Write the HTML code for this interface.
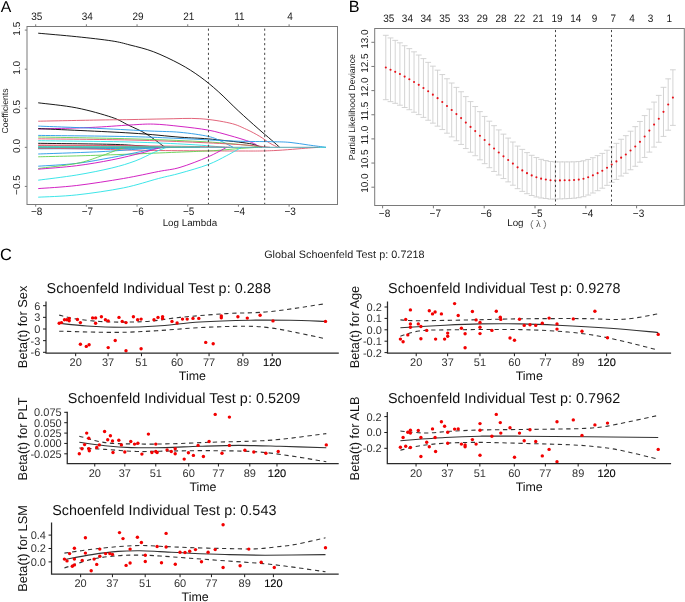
<!DOCTYPE html>
<html><head><meta charset="utf-8"><style>
html,body{margin:0;padding:0;background:#fff;}
svg{display:block;will-change:transform;}
text{font-family:"Liberation Sans", sans-serif;text-rendering:geometricPrecision;}
</style></head><body>
<svg width="685" height="602" viewBox="0 0 685 602">
<rect width="685" height="602" fill="#fff"/>
<g>
<path d="M38.20,33.20 C44.62,33.78 64.43,35.42 76.70,36.70 C88.97,37.98 102.92,39.52 111.80,40.90 C120.68,42.28 123.07,43.20 130.00,45.00 C136.93,46.80 145.07,48.52 153.40,51.70 C161.73,54.88 172.25,59.95 180.00,64.10 C187.75,68.25 193.53,72.03 199.90,76.60 C206.27,81.17 211.82,85.82 218.20,91.50 C224.58,97.18 231.55,104.52 238.20,110.70 C244.85,116.88 252.57,123.72 258.10,128.60 C263.63,133.48 267.80,136.88 271.40,140.00 C275.00,143.12 278.32,146.08 279.70,147.30" fill="none" stroke="#000000" stroke-width="0.9"/>
<path d="M38.20,102.80 C44.62,103.65 64.43,105.48 76.70,107.90 C88.97,110.32 103.23,114.45 111.80,117.30 C120.37,120.15 122.33,122.22 128.10,125.00 C133.87,127.78 140.25,130.28 146.40,134.00 C152.55,137.72 161.90,145.08 165.00,147.30" fill="none" stroke="#000000" stroke-width="0.9"/>
<path d="M38.20,121.20 C48.50,121.00 84.70,120.27 100.00,120.00 C115.30,119.73 119.17,119.78 130.00,119.60 C140.83,119.42 153.35,119.05 165.00,118.90 C176.65,118.75 189.08,118.00 199.90,118.70 C210.72,119.40 222.13,121.32 229.90,123.10 C237.67,124.88 241.52,127.18 246.50,129.40 C251.48,131.62 255.93,134.12 259.80,136.40 C263.67,138.68 266.67,141.28 269.70,143.10 C272.73,144.92 276.62,146.60 278.00,147.30" fill="none" stroke="#DF536B" stroke-width="0.9"/>
<path d="M38.20,129.00 C46.83,128.75 74.70,128.17 90.00,127.50 C105.30,126.83 119.43,125.57 130.00,125.00 C140.57,124.43 145.07,123.87 153.40,124.10 C161.73,124.33 170.87,125.40 180.00,126.40 C189.13,127.40 199.88,128.57 208.20,130.10 C216.52,131.63 223.52,133.85 229.90,135.60 C236.28,137.35 242.35,139.22 246.50,140.60 C250.65,141.98 252.58,142.78 254.80,143.90 C257.02,145.02 258.97,146.73 259.80,147.30" fill="none" stroke="#CD0BBC" stroke-width="0.9"/>
<path d="M38.20,128.60 C53.50,129.33 106.37,131.57 130.00,133.00 C153.63,134.43 166.97,136.22 180.00,137.20 C193.03,138.18 197.12,137.92 208.20,138.90 C219.28,139.88 238.18,141.92 246.50,143.10 C254.82,144.28 255.52,145.30 258.10,146.00 C260.68,146.70 261.35,147.08 262.00,147.30" fill="none" stroke="#000000" stroke-width="0.9"/>
<path d="M38.20,126.10 C48.50,126.50 81.37,127.68 100.00,128.50 C118.63,129.32 136.67,130.37 150.00,131.00 C163.33,131.63 170.30,131.40 180.00,132.30 C189.70,133.20 201.28,134.88 208.20,136.40 C215.12,137.92 217.33,139.58 221.50,141.40 C225.67,143.22 231.25,146.32 233.20,147.30" fill="none" stroke="#2297E6" stroke-width="0.9"/>
<path d="M38.20,135.40 C53.50,135.60 106.37,136.08 130.00,136.60 C153.63,137.12 162.53,137.75 180.00,138.50 C197.47,139.25 219.57,140.57 234.80,141.10 C250.03,141.63 262.20,141.48 271.40,141.70 C280.60,141.92 283.82,141.85 290.00,142.40 C296.18,142.95 302.50,144.18 308.50,145.00 C314.50,145.82 323.08,146.92 326.00,147.30" fill="none" stroke="#2297E6" stroke-width="0.9"/>
<path d="M38.20,137.00 C53.50,137.30 103.03,138.05 130.00,138.80 C156.97,139.55 181.67,140.55 200.00,141.50 C218.33,142.45 229.67,143.53 240.00,144.50 C250.33,145.47 258.33,146.83 262.00,147.30" fill="none" stroke="#61D04F" stroke-width="0.9"/>
<path d="M38.20,138.80 C53.50,139.00 103.03,139.38 130.00,140.00 C156.97,140.62 180.83,141.67 200.00,142.50 C219.17,143.33 233.33,144.20 245.00,145.00 C256.67,145.80 265.83,146.92 270.00,147.30" fill="none" stroke="#DF536B" stroke-width="0.9"/>
<path d="M38.20,140.70 C53.50,140.92 104.70,141.37 130.00,142.00 C155.30,142.63 174.17,143.62 190.00,144.50 C205.83,145.38 219.17,146.83 225.00,147.30" fill="none" stroke="#28E2E5" stroke-width="0.9"/>
<path d="M38.20,143.30 C50.17,143.47 93.03,143.88 110.00,144.30 C126.97,144.72 131.67,145.30 140.00,145.80 C148.33,146.30 156.67,147.05 160.00,147.30" fill="none" stroke="#000000" stroke-width="0.9"/>
<path d="M38.20,145.00 C55.17,145.13 113.03,145.53 140.00,145.80 C166.97,146.07 185.00,146.35 200.00,146.60 C215.00,146.85 225.00,147.18 230.00,147.30" fill="none" stroke="#DF536B" stroke-width="0.9"/>
<path d="M38.20,145.60 C51.83,145.70 98.03,145.92 120.00,146.20 C141.97,146.48 161.67,147.12 170.00,147.30" fill="none" stroke="#DF536B" stroke-width="0.9"/>
<path d="M38.20,146.50 C56.83,146.57 123.03,146.77 150.00,146.90 C176.97,147.03 191.67,147.23 200.00,147.30" fill="none" stroke="#28E2E5" stroke-width="0.9"/>
<path d="M38.20,147.20 C56.83,147.20 123.03,147.18 150.00,147.20 C176.97,147.22 191.67,147.28 200.00,147.30" fill="none" stroke="#61D04F" stroke-width="0.9"/>
<path d="M38.20,147.80 C56.83,147.77 123.03,147.68 150.00,147.60 C176.97,147.52 191.67,147.35 200.00,147.30" fill="none" stroke="#28E2E5" stroke-width="0.9"/>
<path d="M38.20,148.40 C55.17,148.33 116.37,148.18 140.00,148.00 C163.63,147.82 173.33,147.42 180.00,147.30" fill="none" stroke="#61D04F" stroke-width="0.9"/>
<path d="M38.20,148.80 C51.83,148.73 98.03,148.65 120.00,148.40 C141.97,148.15 161.67,147.48 170.00,147.30" fill="none" stroke="#2297E6" stroke-width="0.9"/>
<path d="M38.20,148.20 C46.83,148.33 71.37,148.63 90.00,149.00 C108.63,149.37 125.27,150.07 150.00,150.40 C174.73,150.73 217.83,150.97 238.40,151.00 C258.97,151.03 261.72,151.10 273.40,150.60 C285.08,150.10 300.73,148.55 308.50,148.00 C316.27,147.45 318.08,147.42 320.00,147.30" fill="none" stroke="#DF536B" stroke-width="0.9"/>
<path d="M38.20,154.00 C48.50,153.62 83.85,152.48 100.00,151.70 C116.15,150.92 125.35,150.03 135.10,149.30 C144.85,148.57 154.60,147.63 158.50,147.30" fill="none" stroke="#2297E6" stroke-width="0.9"/>
<path d="M38.20,156.80 C48.50,156.53 74.70,156.05 100.00,155.20 C125.30,154.35 170.83,152.47 190.00,151.70 C209.17,150.93 206.93,151.12 215.00,150.60 C223.07,150.08 231.23,149.15 238.40,148.60 C245.57,148.05 254.73,147.52 258.00,147.30" fill="none" stroke="#61D04F" stroke-width="0.9"/>
<path d="M38.20,166.20 C44.62,165.73 64.43,164.85 76.70,163.40 C88.97,161.95 102.07,159.27 111.80,157.50 C121.53,155.73 128.10,154.25 135.10,152.80 C142.10,151.35 149.32,149.72 153.80,148.80 C158.28,147.88 160.63,147.55 162.00,147.30" fill="none" stroke="#2297E6" stroke-width="0.9"/>
<path d="M38.20,168.50 C44.62,167.65 66.40,165.42 76.70,163.40 C87.00,161.38 92.98,158.75 100.00,156.40 C107.02,154.05 114.47,150.82 118.80,149.30 C123.13,147.78 124.80,147.63 126.00,147.30" fill="none" stroke="#61D04F" stroke-width="0.9"/>
<path d="M38.20,169.20 C44.62,168.62 64.43,167.25 76.70,165.70 C88.97,164.15 100.90,162.05 111.80,159.90 C122.70,157.75 134.72,154.65 142.10,152.80 C149.48,150.95 152.62,149.72 156.10,148.80 C159.58,147.88 161.85,147.55 163.00,147.30" fill="none" stroke="#CD0BBC" stroke-width="0.9"/>
<path d="M38.20,180.20 C44.62,179.33 64.43,177.03 76.70,175.00 C88.97,172.97 102.07,170.33 111.80,168.00 C121.53,165.67 128.10,163.58 135.10,161.00 C142.10,158.42 148.57,154.78 153.80,152.50 C159.03,150.22 164.38,148.17 166.50,147.30" fill="none" stroke="#28E2E5" stroke-width="0.9"/>
<path d="M38.20,188.60 C44.62,188.08 62.50,187.18 76.70,185.50 C90.90,183.82 109.77,180.83 123.40,178.50 C137.03,176.17 149.07,173.35 158.50,171.50 C167.93,169.65 171.75,169.83 180.00,167.40 C188.25,164.97 200.22,160.25 208.00,156.90 C215.78,153.55 223.58,148.90 226.70,147.30" fill="none" stroke="#CD0BBC" stroke-width="0.9"/>
<path d="M38.20,197.20 C44.62,196.82 62.50,196.45 76.70,194.90 C90.90,193.35 109.77,190.63 123.40,187.90 C137.03,185.17 149.07,180.95 158.50,178.50 C167.93,176.05 171.75,175.52 180.00,173.20 C188.25,170.88 200.22,167.53 208.00,164.60 C215.78,161.67 221.12,158.48 226.70,155.60 C232.28,152.72 239.03,148.68 241.50,147.30" fill="none" stroke="#28E2E5" stroke-width="0.9"/>
<line x1="38.2" y1="147.30" x2="318.00" y2="147.30" stroke="#55a7b0" stroke-width="1"/>
<line x1="318.00" y1="147.30" x2="326.00" y2="147.30" stroke="#3cc6d0" stroke-width="1"/>
<line x1="208.45" y1="26.50" x2="208.45" y2="204.50" stroke="#444" stroke-width="1" stroke-dasharray="2.2,2.64" stroke-dashoffset="2.8"/>
<line x1="264.70" y1="26.50" x2="264.70" y2="204.50" stroke="#444" stroke-width="1" stroke-dasharray="2.2,2.64" stroke-dashoffset="2.8"/>
<rect x="27.00" y="26.50" width="310.50" height="178.00" fill="none" stroke="#7a7a7a" stroke-width="1"/>
<line x1="35.70" y1="26.50" x2="35.70" y2="24.30" stroke="#7a7a7a" stroke-width="1"/>
<line x1="35.70" y1="204.50" x2="35.70" y2="206.70" stroke="#7a7a7a" stroke-width="1"/>
<text x="36.70" y="19.80" font-size="10.00" text-anchor="middle" fill="#1a1a1a" transform="matrix(1,0,0,1.080,0,-1.584)">35</text>
<text x="36.70" y="214.90" font-size="10.00" text-anchor="middle" fill="#1a1a1a" transform="matrix(1,0,0,1.080,0,-17.192)">−8</text>
<line x1="86.38" y1="26.50" x2="86.38" y2="24.30" stroke="#7a7a7a" stroke-width="1"/>
<line x1="86.38" y1="204.50" x2="86.38" y2="206.70" stroke="#7a7a7a" stroke-width="1"/>
<text x="87.38" y="19.80" font-size="10.00" text-anchor="middle" fill="#1a1a1a" transform="matrix(1,0,0,1.080,0,-1.584)">34</text>
<text x="87.38" y="214.90" font-size="10.00" text-anchor="middle" fill="#1a1a1a" transform="matrix(1,0,0,1.080,0,-17.192)">−7</text>
<line x1="137.06" y1="26.50" x2="137.06" y2="24.30" stroke="#7a7a7a" stroke-width="1"/>
<line x1="137.06" y1="204.50" x2="137.06" y2="206.70" stroke="#7a7a7a" stroke-width="1"/>
<text x="138.06" y="19.80" font-size="10.00" text-anchor="middle" fill="#1a1a1a" transform="matrix(1,0,0,1.080,0,-1.584)">29</text>
<text x="138.06" y="214.90" font-size="10.00" text-anchor="middle" fill="#1a1a1a" transform="matrix(1,0,0,1.080,0,-17.192)">−6</text>
<line x1="187.74" y1="26.50" x2="187.74" y2="24.30" stroke="#7a7a7a" stroke-width="1"/>
<line x1="187.74" y1="204.50" x2="187.74" y2="206.70" stroke="#7a7a7a" stroke-width="1"/>
<text x="188.74" y="19.80" font-size="10.00" text-anchor="middle" fill="#1a1a1a" transform="matrix(1,0,0,1.080,0,-1.584)">21</text>
<text x="188.74" y="214.90" font-size="10.00" text-anchor="middle" fill="#1a1a1a" transform="matrix(1,0,0,1.080,0,-17.192)">−5</text>
<line x1="238.42" y1="26.50" x2="238.42" y2="24.30" stroke="#7a7a7a" stroke-width="1"/>
<line x1="238.42" y1="204.50" x2="238.42" y2="206.70" stroke="#7a7a7a" stroke-width="1"/>
<text x="239.42" y="19.80" font-size="10.00" text-anchor="middle" fill="#1a1a1a" transform="matrix(1,0,0,1.080,0,-1.584)">11</text>
<text x="239.42" y="214.90" font-size="10.00" text-anchor="middle" fill="#1a1a1a" transform="matrix(1,0,0,1.080,0,-17.192)">−4</text>
<line x1="289.10" y1="26.50" x2="289.10" y2="24.30" stroke="#7a7a7a" stroke-width="1"/>
<line x1="289.10" y1="204.50" x2="289.10" y2="206.70" stroke="#7a7a7a" stroke-width="1"/>
<text x="290.10" y="19.80" font-size="10.00" text-anchor="middle" fill="#1a1a1a" transform="matrix(1,0,0,1.080,0,-1.584)">4</text>
<text x="290.10" y="214.90" font-size="10.00" text-anchor="middle" fill="#1a1a1a" transform="matrix(1,0,0,1.080,0,-17.192)">−3</text>
<line x1="27.00" y1="30.10" x2="24.80" y2="30.10" stroke="#7a7a7a" stroke-width="1"/>
<text x="19.70" y="28.70" font-size="10.00" text-anchor="middle" fill="#1a1a1a" transform="rotate(-90 19.70 28.70)">1.5</text>
<line x1="27.00" y1="69.18" x2="24.80" y2="69.18" stroke="#7a7a7a" stroke-width="1"/>
<text x="19.70" y="67.78" font-size="10.00" text-anchor="middle" fill="#1a1a1a" transform="rotate(-90 19.70 67.78)">1.0</text>
<line x1="27.00" y1="108.26" x2="24.80" y2="108.26" stroke="#7a7a7a" stroke-width="1"/>
<text x="19.70" y="106.86" font-size="10.00" text-anchor="middle" fill="#1a1a1a" transform="rotate(-90 19.70 106.86)">0.5</text>
<line x1="27.00" y1="147.34" x2="24.80" y2="147.34" stroke="#7a7a7a" stroke-width="1"/>
<text x="19.70" y="145.94" font-size="10.00" text-anchor="middle" fill="#1a1a1a" transform="rotate(-90 19.70 145.94)">0.0</text>
<line x1="27.00" y1="186.42" x2="24.80" y2="186.42" stroke="#7a7a7a" stroke-width="1"/>
<text x="19.70" y="185.02" font-size="10.00" text-anchor="middle" fill="#1a1a1a" transform="rotate(-90 19.70 185.02)">−0.5</text>
<text x="7.60" y="111.00" font-size="8.70" text-anchor="middle" fill="#1a1a1a" transform="rotate(-90 7.60 111.00)">Coefficients</text>
<text x="189.90" y="226.30" font-size="9.80" text-anchor="middle" fill="#1a1a1a">Log Lambda</text>
<text x="0.70" y="11.80" font-size="15.80" text-anchor="start" fill="#000">A</text>
</g>
<g>
<path d="M385.80,35.30 V99.70 M382.90,35.30 H388.70 M382.90,99.70 H388.70" stroke="#cfcfcf" stroke-width="0.9" fill="none"/>
<path d="M390.51,37.94 V101.64 M387.61,37.94 H393.41 M387.61,101.64 H393.41" stroke="#cfcfcf" stroke-width="0.9" fill="none"/>
<path d="M395.21,40.36 V103.34 M392.31,40.36 H398.11 M392.31,103.34 H398.11" stroke="#cfcfcf" stroke-width="0.9" fill="none"/>
<path d="M399.92,42.82 V105.21 M397.02,42.82 H402.82 M397.02,105.21 H402.82" stroke="#cfcfcf" stroke-width="0.9" fill="none"/>
<path d="M404.63,45.72 V107.51 M401.73,45.72 H407.53 M401.73,107.51 H407.53" stroke="#cfcfcf" stroke-width="0.9" fill="none"/>
<path d="M409.33,48.63 V109.73 M406.43,48.63 H412.23 M406.43,109.73 H412.23" stroke="#cfcfcf" stroke-width="0.9" fill="none"/>
<path d="M414.04,51.83 V112.22 M411.14,51.83 H416.94 M411.14,112.22 H416.94" stroke="#cfcfcf" stroke-width="0.9" fill="none"/>
<path d="M418.75,55.04 V114.62 M415.85,55.04 H421.65 M415.85,114.62 H421.65" stroke="#cfcfcf" stroke-width="0.9" fill="none"/>
<path d="M423.45,58.62 V117.39 M420.55,58.62 H426.35 M420.55,117.39 H426.35" stroke="#cfcfcf" stroke-width="0.9" fill="none"/>
<path d="M428.16,62.37 V120.25 M425.26,62.37 H431.06 M425.26,120.25 H431.06" stroke="#cfcfcf" stroke-width="0.9" fill="none"/>
<path d="M432.87,66.16 V123.14 M429.97,66.16 H435.77 M429.97,123.14 H435.77" stroke="#cfcfcf" stroke-width="0.9" fill="none"/>
<path d="M437.57,70.16 V126.13 M434.67,70.16 H440.47 M434.67,126.13 H440.47" stroke="#cfcfcf" stroke-width="0.9" fill="none"/>
<path d="M442.28,74.56 V129.54 M439.38,74.56 H445.18 M439.38,129.54 H445.18" stroke="#cfcfcf" stroke-width="0.9" fill="none"/>
<path d="M446.99,78.75 V133.20 M444.09,78.75 H449.89 M444.09,133.20 H449.89" stroke="#cfcfcf" stroke-width="0.9" fill="none"/>
<path d="M451.69,83.01 V136.92 M448.79,83.01 H454.59 M448.79,136.92 H454.59" stroke="#cfcfcf" stroke-width="0.9" fill="none"/>
<path d="M456.40,87.40 V140.77 M453.50,87.40 H459.30 M453.50,140.77 H459.30" stroke="#cfcfcf" stroke-width="0.9" fill="none"/>
<path d="M461.10,91.77 V144.44 M458.20,91.77 H464.00 M458.20,144.44 H464.00" stroke="#cfcfcf" stroke-width="0.9" fill="none"/>
<path d="M465.81,96.62 V148.56 M462.91,96.62 H468.71 M462.91,148.56 H468.71" stroke="#cfcfcf" stroke-width="0.9" fill="none"/>
<path d="M470.52,101.62 V152.19 M467.62,101.62 H473.42 M467.62,152.19 H473.42" stroke="#cfcfcf" stroke-width="0.9" fill="none"/>
<path d="M475.22,106.53 V155.72 M472.32,106.53 H478.12 M472.32,155.72 H478.12" stroke="#cfcfcf" stroke-width="0.9" fill="none"/>
<path d="M479.93,111.63 V159.83 M477.03,111.63 H482.83 M477.03,159.83 H482.83" stroke="#cfcfcf" stroke-width="0.9" fill="none"/>
<path d="M484.64,116.44 V163.65 M481.74,116.44 H487.54 M481.74,163.65 H487.54" stroke="#cfcfcf" stroke-width="0.9" fill="none"/>
<path d="M489.34,121.18 V167.69 M486.44,121.18 H492.24 M486.44,167.69 H492.24" stroke="#cfcfcf" stroke-width="0.9" fill="none"/>
<path d="M494.05,125.65 V171.46 M491.15,125.65 H496.95 M491.15,171.46 H496.95" stroke="#cfcfcf" stroke-width="0.9" fill="none"/>
<path d="M498.76,129.92 V175.01 M495.86,129.92 H501.66 M495.86,175.01 H501.66" stroke="#cfcfcf" stroke-width="0.9" fill="none"/>
<path d="M503.46,134.15 V178.55 M500.56,134.15 H506.36 M500.56,178.55 H506.36" stroke="#cfcfcf" stroke-width="0.9" fill="none"/>
<path d="M508.17,138.08 V181.88 M505.27,138.08 H511.07 M505.27,181.88 H511.07" stroke="#cfcfcf" stroke-width="0.9" fill="none"/>
<path d="M512.88,142.00 V185.21 M509.98,142.00 H515.78 M509.98,185.21 H515.78" stroke="#cfcfcf" stroke-width="0.9" fill="none"/>
<path d="M517.58,146.05 V188.66 M514.68,146.05 H520.48 M514.68,188.66 H520.48" stroke="#cfcfcf" stroke-width="0.9" fill="none"/>
<path d="M522.29,149.39 V191.39 M519.39,149.39 H525.19 M519.39,191.39 H525.19" stroke="#cfcfcf" stroke-width="0.9" fill="none"/>
<path d="M527.00,152.60 V193.70 M524.10,152.60 H529.90 M524.10,193.70 H529.90" stroke="#cfcfcf" stroke-width="0.9" fill="none"/>
<path d="M531.70,155.30 V195.50 M528.80,155.30 H534.60 M528.80,195.50 H534.60" stroke="#cfcfcf" stroke-width="0.9" fill="none"/>
<path d="M536.41,157.55 V196.97 M533.51,157.55 H539.31 M533.51,196.97 H539.31" stroke="#cfcfcf" stroke-width="0.9" fill="none"/>
<path d="M541.12,159.34 V197.98 M538.22,159.34 H544.02 M538.22,197.98 H544.02" stroke="#cfcfcf" stroke-width="0.9" fill="none"/>
<path d="M545.82,160.57 V198.51 M542.92,160.57 H548.72 M542.92,198.51 H548.72" stroke="#cfcfcf" stroke-width="0.9" fill="none"/>
<path d="M550.53,161.51 V199.10 M547.63,161.51 H553.43 M547.63,199.10 H553.43" stroke="#cfcfcf" stroke-width="0.9" fill="none"/>
<path d="M555.24,161.86 V199.11 M552.34,161.86 H558.14 M552.34,199.11 H558.14" stroke="#cfcfcf" stroke-width="0.9" fill="none"/>
<path d="M559.94,161.88 V198.91 M557.04,161.88 H562.84 M557.04,198.91 H562.84" stroke="#cfcfcf" stroke-width="0.9" fill="none"/>
<path d="M564.65,161.88 V198.71 M561.75,161.88 H567.55 M561.75,198.71 H567.55" stroke="#cfcfcf" stroke-width="0.9" fill="none"/>
<path d="M569.36,161.88 V198.51 M566.46,161.88 H572.26 M566.46,198.51 H572.26" stroke="#cfcfcf" stroke-width="0.9" fill="none"/>
<path d="M574.06,161.80 V198.19 M571.16,161.80 H576.96 M571.16,198.19 H576.96" stroke="#cfcfcf" stroke-width="0.9" fill="none"/>
<path d="M578.77,161.54 V197.67 M575.87,161.54 H581.67 M575.87,197.67 H581.67" stroke="#cfcfcf" stroke-width="0.9" fill="none"/>
<path d="M583.48,160.80 V196.69 M580.58,160.80 H586.38 M580.58,196.69 H586.38" stroke="#cfcfcf" stroke-width="0.9" fill="none"/>
<path d="M588.18,159.46 V195.07 M585.28,159.46 H591.08 M585.28,195.07 H591.08" stroke="#cfcfcf" stroke-width="0.9" fill="none"/>
<path d="M592.89,157.69 V193.03 M589.99,157.69 H595.79 M589.99,193.03 H595.79" stroke="#cfcfcf" stroke-width="0.9" fill="none"/>
<path d="M597.60,155.62 V190.69 M594.70,155.62 H600.50 M594.70,190.69 H600.50" stroke="#cfcfcf" stroke-width="0.9" fill="none"/>
<path d="M602.30,153.40 V188.20 M599.40,153.40 H605.20 M599.40,188.20 H605.20" stroke="#cfcfcf" stroke-width="0.9" fill="none"/>
<path d="M607.01,150.24 V185.35 M604.11,150.24 H609.91 M604.11,185.35 H609.91" stroke="#cfcfcf" stroke-width="0.9" fill="none"/>
<path d="M611.71,146.91 V182.33 M608.81,146.91 H614.61 M608.81,182.33 H614.61" stroke="#cfcfcf" stroke-width="0.9" fill="none"/>
<path d="M616.42,143.37 V179.44 M613.52,143.37 H619.32 M613.52,179.44 H619.32" stroke="#cfcfcf" stroke-width="0.9" fill="none"/>
<path d="M621.13,139.27 V176.02 M618.23,139.27 H624.03 M618.23,176.02 H624.03" stroke="#cfcfcf" stroke-width="0.9" fill="none"/>
<path d="M625.83,135.65 V173.29 M622.93,135.65 H628.73 M622.93,173.29 H628.73" stroke="#cfcfcf" stroke-width="0.9" fill="none"/>
<path d="M630.54,131.21 V169.75 M627.64,131.21 H633.44 M627.64,169.75 H633.44" stroke="#cfcfcf" stroke-width="0.9" fill="none"/>
<path d="M635.25,126.64 V166.27 M632.35,126.64 H638.15 M632.35,166.27 H638.15" stroke="#cfcfcf" stroke-width="0.9" fill="none"/>
<path d="M639.95,121.48 V162.20 M637.05,121.48 H642.85 M637.05,162.20 H642.85" stroke="#cfcfcf" stroke-width="0.9" fill="none"/>
<path d="M644.66,115.58 V157.46 M641.76,115.58 H647.56 M641.76,157.46 H647.56" stroke="#cfcfcf" stroke-width="0.9" fill="none"/>
<path d="M649.37,109.05 V152.12 M646.47,109.05 H652.27 M646.47,152.12 H652.27" stroke="#cfcfcf" stroke-width="0.9" fill="none"/>
<path d="M654.07,102.10 V147.08 M651.17,102.10 H656.97 M651.17,147.08 H656.97" stroke="#cfcfcf" stroke-width="0.9" fill="none"/>
<path d="M658.78,95.38 V142.27 M655.88,95.38 H661.68 M655.88,142.27 H661.68" stroke="#cfcfcf" stroke-width="0.9" fill="none"/>
<path d="M663.49,87.32 V136.41 M660.59,87.32 H666.39 M660.59,136.41 H666.39" stroke="#cfcfcf" stroke-width="0.9" fill="none"/>
<path d="M668.19,78.83 V130.20 M665.29,78.83 H671.09 M665.29,130.20 H671.09" stroke="#cfcfcf" stroke-width="0.9" fill="none"/>
<path d="M672.90,69.80 V125.40 M670.00,69.80 H675.80 M670.00,125.40 H675.80" stroke="#cfcfcf" stroke-width="0.9" fill="none"/>
<circle cx="385.80" cy="67.50" r="1.05" fill="#e8121a"/>
<circle cx="390.51" cy="69.79" r="1.05" fill="#e8121a"/>
<circle cx="395.21" cy="71.85" r="1.05" fill="#e8121a"/>
<circle cx="399.92" cy="74.01" r="1.05" fill="#e8121a"/>
<circle cx="404.63" cy="76.61" r="1.05" fill="#e8121a"/>
<circle cx="409.33" cy="79.18" r="1.05" fill="#e8121a"/>
<circle cx="414.04" cy="82.02" r="1.05" fill="#e8121a"/>
<circle cx="418.75" cy="84.83" r="1.05" fill="#e8121a"/>
<circle cx="423.45" cy="88.01" r="1.05" fill="#e8121a"/>
<circle cx="428.16" cy="91.31" r="1.05" fill="#e8121a"/>
<circle cx="432.87" cy="94.65" r="1.05" fill="#e8121a"/>
<circle cx="437.57" cy="98.14" r="1.05" fill="#e8121a"/>
<circle cx="442.28" cy="102.05" r="1.05" fill="#e8121a"/>
<circle cx="446.99" cy="105.97" r="1.05" fill="#e8121a"/>
<circle cx="451.69" cy="109.97" r="1.05" fill="#e8121a"/>
<circle cx="456.40" cy="114.08" r="1.05" fill="#e8121a"/>
<circle cx="461.10" cy="118.10" r="1.05" fill="#e8121a"/>
<circle cx="465.81" cy="122.59" r="1.05" fill="#e8121a"/>
<circle cx="470.52" cy="126.91" r="1.05" fill="#e8121a"/>
<circle cx="475.22" cy="131.12" r="1.05" fill="#e8121a"/>
<circle cx="479.93" cy="135.73" r="1.05" fill="#e8121a"/>
<circle cx="484.64" cy="140.04" r="1.05" fill="#e8121a"/>
<circle cx="489.34" cy="144.44" r="1.05" fill="#e8121a"/>
<circle cx="494.05" cy="148.56" r="1.05" fill="#e8121a"/>
<circle cx="498.76" cy="152.46" r="1.05" fill="#e8121a"/>
<circle cx="503.46" cy="156.35" r="1.05" fill="#e8121a"/>
<circle cx="508.17" cy="159.98" r="1.05" fill="#e8121a"/>
<circle cx="512.88" cy="163.61" r="1.05" fill="#e8121a"/>
<circle cx="517.58" cy="167.35" r="1.05" fill="#e8121a"/>
<circle cx="522.29" cy="170.39" r="1.05" fill="#e8121a"/>
<circle cx="527.00" cy="173.15" r="1.05" fill="#e8121a"/>
<circle cx="531.70" cy="175.40" r="1.05" fill="#e8121a"/>
<circle cx="536.41" cy="177.26" r="1.05" fill="#e8121a"/>
<circle cx="541.12" cy="178.66" r="1.05" fill="#e8121a"/>
<circle cx="545.82" cy="179.54" r="1.05" fill="#e8121a"/>
<circle cx="550.53" cy="180.30" r="1.05" fill="#e8121a"/>
<circle cx="555.24" cy="180.49" r="1.05" fill="#e8121a"/>
<circle cx="559.94" cy="180.40" r="1.05" fill="#e8121a"/>
<circle cx="564.65" cy="180.30" r="1.05" fill="#e8121a"/>
<circle cx="569.36" cy="180.20" r="1.05" fill="#e8121a"/>
<circle cx="574.06" cy="179.99" r="1.05" fill="#e8121a"/>
<circle cx="578.77" cy="179.60" r="1.05" fill="#e8121a"/>
<circle cx="583.48" cy="178.75" r="1.05" fill="#e8121a"/>
<circle cx="588.18" cy="177.27" r="1.05" fill="#e8121a"/>
<circle cx="592.89" cy="175.36" r="1.05" fill="#e8121a"/>
<circle cx="597.60" cy="173.15" r="1.05" fill="#e8121a"/>
<circle cx="602.30" cy="170.80" r="1.05" fill="#e8121a"/>
<circle cx="607.01" cy="167.79" r="1.05" fill="#e8121a"/>
<circle cx="611.71" cy="164.62" r="1.05" fill="#e8121a"/>
<circle cx="616.42" cy="161.40" r="1.05" fill="#e8121a"/>
<circle cx="621.13" cy="157.65" r="1.05" fill="#e8121a"/>
<circle cx="625.83" cy="154.47" r="1.05" fill="#e8121a"/>
<circle cx="630.54" cy="150.48" r="1.05" fill="#e8121a"/>
<circle cx="635.25" cy="146.46" r="1.05" fill="#e8121a"/>
<circle cx="639.95" cy="141.84" r="1.05" fill="#e8121a"/>
<circle cx="644.66" cy="136.52" r="1.05" fill="#e8121a"/>
<circle cx="649.37" cy="130.59" r="1.05" fill="#e8121a"/>
<circle cx="654.07" cy="124.59" r="1.05" fill="#e8121a"/>
<circle cx="658.78" cy="118.82" r="1.05" fill="#e8121a"/>
<circle cx="663.49" cy="111.86" r="1.05" fill="#e8121a"/>
<circle cx="668.19" cy="104.52" r="1.05" fill="#e8121a"/>
<circle cx="672.90" cy="97.60" r="1.05" fill="#e8121a"/>
<line x1="555.50" y1="28.50" x2="555.50" y2="205.50" stroke="#444" stroke-width="1" stroke-dasharray="2.2,2.64" stroke-dashoffset="3.4"/>
<line x1="611.50" y1="28.50" x2="611.50" y2="205.50" stroke="#444" stroke-width="1" stroke-dasharray="2.2,2.64" stroke-dashoffset="3.4"/>
<rect x="374.70" y="28.50" width="309.60" height="177.00" fill="none" stroke="#7a7a7a" stroke-width="1"/>
<text x="388.70" y="22.00" font-size="10.00" text-anchor="middle" fill="#1a1a1a" transform="matrix(1,0,0,1.080,0,-1.760)">35</text>
<text x="407.41" y="22.00" font-size="10.00" text-anchor="middle" fill="#1a1a1a" transform="matrix(1,0,0,1.080,0,-1.760)">34</text>
<text x="426.12" y="22.00" font-size="10.00" text-anchor="middle" fill="#1a1a1a" transform="matrix(1,0,0,1.080,0,-1.760)">34</text>
<text x="444.83" y="22.00" font-size="10.00" text-anchor="middle" fill="#1a1a1a" transform="matrix(1,0,0,1.080,0,-1.760)">35</text>
<text x="463.54" y="22.00" font-size="10.00" text-anchor="middle" fill="#1a1a1a" transform="matrix(1,0,0,1.080,0,-1.760)">33</text>
<text x="482.25" y="22.00" font-size="10.00" text-anchor="middle" fill="#1a1a1a" transform="matrix(1,0,0,1.080,0,-1.760)">29</text>
<text x="500.96" y="22.00" font-size="10.00" text-anchor="middle" fill="#1a1a1a" transform="matrix(1,0,0,1.080,0,-1.760)">28</text>
<text x="519.67" y="22.00" font-size="10.00" text-anchor="middle" fill="#1a1a1a" transform="matrix(1,0,0,1.080,0,-1.760)">22</text>
<text x="538.38" y="22.00" font-size="10.00" text-anchor="middle" fill="#1a1a1a" transform="matrix(1,0,0,1.080,0,-1.760)">21</text>
<text x="557.09" y="22.00" font-size="10.00" text-anchor="middle" fill="#1a1a1a" transform="matrix(1,0,0,1.080,0,-1.760)">19</text>
<text x="575.80" y="22.00" font-size="10.00" text-anchor="middle" fill="#1a1a1a" transform="matrix(1,0,0,1.080,0,-1.760)">14</text>
<text x="594.51" y="22.00" font-size="10.00" text-anchor="middle" fill="#1a1a1a" transform="matrix(1,0,0,1.080,0,-1.760)">9</text>
<text x="613.22" y="22.00" font-size="10.00" text-anchor="middle" fill="#1a1a1a" transform="matrix(1,0,0,1.080,0,-1.760)">7</text>
<text x="631.93" y="22.00" font-size="10.00" text-anchor="middle" fill="#1a1a1a" transform="matrix(1,0,0,1.080,0,-1.760)">4</text>
<text x="650.64" y="22.00" font-size="10.00" text-anchor="middle" fill="#1a1a1a" transform="matrix(1,0,0,1.080,0,-1.760)">3</text>
<text x="669.35" y="22.00" font-size="10.00" text-anchor="middle" fill="#1a1a1a" transform="matrix(1,0,0,1.080,0,-1.760)">1</text>
<line x1="382.60" y1="205.50" x2="382.60" y2="208.30" stroke="#7a7a7a" stroke-width="1"/>
<text x="384.50" y="216.60" font-size="10.00" text-anchor="middle" fill="#1a1a1a" transform="matrix(1,0,0,1.080,0,-17.328)">−8</text>
<line x1="433.40" y1="205.50" x2="433.40" y2="208.30" stroke="#7a7a7a" stroke-width="1"/>
<text x="435.30" y="216.60" font-size="10.00" text-anchor="middle" fill="#1a1a1a" transform="matrix(1,0,0,1.080,0,-17.328)">−7</text>
<line x1="484.20" y1="205.50" x2="484.20" y2="208.30" stroke="#7a7a7a" stroke-width="1"/>
<text x="486.10" y="216.60" font-size="10.00" text-anchor="middle" fill="#1a1a1a" transform="matrix(1,0,0,1.080,0,-17.328)">−6</text>
<line x1="535.00" y1="205.50" x2="535.00" y2="208.30" stroke="#7a7a7a" stroke-width="1"/>
<text x="536.90" y="216.60" font-size="10.00" text-anchor="middle" fill="#1a1a1a" transform="matrix(1,0,0,1.080,0,-17.328)">−5</text>
<line x1="585.80" y1="205.50" x2="585.80" y2="208.30" stroke="#7a7a7a" stroke-width="1"/>
<text x="587.70" y="216.60" font-size="10.00" text-anchor="middle" fill="#1a1a1a" transform="matrix(1,0,0,1.080,0,-17.328)">−4</text>
<line x1="636.60" y1="205.50" x2="636.60" y2="208.30" stroke="#7a7a7a" stroke-width="1"/>
<text x="638.50" y="216.60" font-size="10.00" text-anchor="middle" fill="#1a1a1a" transform="matrix(1,0,0,1.080,0,-17.328)">−3</text>
<line x1="374.70" y1="42.30" x2="371.40" y2="42.30" stroke="#7a7a7a" stroke-width="1"/>
<text x="368.20" y="39.10" font-size="10.00" text-anchor="middle" fill="#1a1a1a" transform="rotate(-90 368.20 39.10)">13.0</text>
<line x1="374.70" y1="66.45" x2="371.40" y2="66.45" stroke="#7a7a7a" stroke-width="1"/>
<text x="368.20" y="63.10" font-size="10.00" text-anchor="middle" fill="#1a1a1a" transform="rotate(-90 368.20 63.10)">12.5</text>
<line x1="374.70" y1="90.60" x2="371.40" y2="90.60" stroke="#7a7a7a" stroke-width="1"/>
<text x="368.20" y="87.10" font-size="10.00" text-anchor="middle" fill="#1a1a1a" transform="rotate(-90 368.20 87.10)">12.0</text>
<line x1="374.70" y1="114.75" x2="371.40" y2="114.75" stroke="#7a7a7a" stroke-width="1"/>
<text x="368.20" y="111.10" font-size="10.00" text-anchor="middle" fill="#1a1a1a" transform="rotate(-90 368.20 111.10)">11.5</text>
<line x1="374.70" y1="138.90" x2="371.40" y2="138.90" stroke="#7a7a7a" stroke-width="1"/>
<text x="368.20" y="135.10" font-size="10.00" text-anchor="middle" fill="#1a1a1a" transform="rotate(-90 368.20 135.10)">11.0</text>
<line x1="374.70" y1="163.05" x2="371.40" y2="163.05" stroke="#7a7a7a" stroke-width="1"/>
<text x="368.20" y="159.10" font-size="10.00" text-anchor="middle" fill="#1a1a1a" transform="rotate(-90 368.20 159.10)">10.5</text>
<line x1="374.70" y1="187.20" x2="371.40" y2="187.20" stroke="#7a7a7a" stroke-width="1"/>
<text x="368.20" y="183.10" font-size="10.00" text-anchor="middle" fill="#1a1a1a" transform="rotate(-90 368.20 183.10)">10.0</text>
<text x="354.80" y="107.10" font-size="8.80" text-anchor="middle" fill="#1a1a1a" transform="rotate(-90 354.80 107.10)">Partial Likelihood Deviance</text>
<text x="507.20" y="226.30" font-size="9.80" text-anchor="start" fill="#1a1a1a">Log</text>
<path d="M532.9,220.2 Q529.3,224.6 532.9,229.0" fill="none" stroke="#555" stroke-width="0.8"/>
<path d="M543.8,220.2 Q547.4,224.6 543.8,229.0" fill="none" stroke="#555" stroke-width="0.8"/>
<text x="538.50" y="227.30" font-size="9.80" text-anchor="middle" fill="#444" style="font-family:'Liberation Serif', serif">λ</text>
<text x="348.70" y="11.80" font-size="16.20" text-anchor="start" fill="#000">B</text>
</g>
<text x="0.00" y="259.70" font-size="16.40" text-anchor="start" fill="#000">C</text>
<text x="344.40" y="258.10" font-size="10.80" text-anchor="middle" fill="#1a1a1a" letter-spacing="0.05">Global Schoenfeld Test p: 0.7218</text>
<g>
<path d="M59.20,315.10 C61.83,315.72 68.20,317.73 75.00,318.80 C81.80,319.87 91.67,320.95 100.00,321.50 C108.33,322.05 116.67,322.15 125.00,322.10 C133.33,322.05 140.83,321.98 150.00,321.20 C159.17,320.42 167.22,318.67 180.00,317.40 C192.78,316.13 211.70,314.57 226.70,313.60 C241.70,312.63 253.65,313.23 270.00,311.60 C286.35,309.97 315.67,305.10 324.80,303.80" fill="none" stroke="#333" stroke-width="1.1" stroke-dasharray="4.3,3.6"/>
<path d="M59.20,331.20 C68.50,331.40 98.73,332.48 115.00,332.40 C131.27,332.32 142.63,331.50 156.80,330.70 C170.97,329.90 185.30,328.35 200.00,327.60 C214.70,326.85 233.33,326.17 245.00,326.20 C256.67,326.23 261.67,326.78 270.00,327.80 C278.33,328.82 285.87,330.50 295.00,332.30 C304.13,334.10 319.83,337.55 324.80,338.60" fill="none" stroke="#333" stroke-width="1.1" stroke-dasharray="4.3,3.6"/>
<path d="M59.20,323.30 C63.78,323.75 76.27,325.35 86.70,326.00 C97.13,326.65 110.12,327.20 121.80,327.20 C133.48,327.20 143.77,326.87 156.80,326.00 C169.83,325.13 184.47,322.97 200.00,322.00 C215.53,321.03 235.00,320.48 250.00,320.20 C265.00,319.92 277.53,320.10 290.00,320.30 C302.47,320.50 319.00,321.22 324.80,321.40" fill="none" stroke="#333" stroke-width="1.1"/>
<circle cx="59.20" cy="323.30" r="1.7" fill="#f20000"/>
<circle cx="61.50" cy="322.60" r="1.7" fill="#f20000"/>
<circle cx="64.50" cy="319.80" r="1.7" fill="#f20000"/>
<circle cx="66.90" cy="319.80" r="1.7" fill="#f20000"/>
<circle cx="69.20" cy="318.40" r="1.7" fill="#f20000"/>
<circle cx="69.20" cy="320.70" r="1.7" fill="#f20000"/>
<circle cx="77.40" cy="319.50" r="1.7" fill="#f20000"/>
<circle cx="80.40" cy="322.60" r="1.7" fill="#f20000"/>
<circle cx="80.40" cy="344.30" r="1.7" fill="#f20000"/>
<circle cx="86.30" cy="346.40" r="1.7" fill="#f20000"/>
<circle cx="89.10" cy="344.70" r="1.7" fill="#f20000"/>
<circle cx="92.60" cy="317.90" r="1.7" fill="#f20000"/>
<circle cx="95.60" cy="317.90" r="1.7" fill="#f20000"/>
<circle cx="95.60" cy="323.30" r="1.7" fill="#f20000"/>
<circle cx="101.40" cy="316.70" r="1.7" fill="#f20000"/>
<circle cx="105.40" cy="319.80" r="1.7" fill="#f20000"/>
<circle cx="108.20" cy="320.90" r="1.7" fill="#f20000"/>
<circle cx="108.20" cy="347.60" r="1.7" fill="#f20000"/>
<circle cx="115.20" cy="340.50" r="1.7" fill="#f20000"/>
<circle cx="119.00" cy="317.40" r="1.7" fill="#f20000"/>
<circle cx="122.20" cy="321.40" r="1.7" fill="#f20000"/>
<circle cx="126.00" cy="322.60" r="1.7" fill="#f20000"/>
<circle cx="126.00" cy="350.80" r="1.7" fill="#f20000"/>
<circle cx="133.40" cy="316.70" r="1.7" fill="#f20000"/>
<circle cx="137.60" cy="319.80" r="1.7" fill="#f20000"/>
<circle cx="141.10" cy="319.10" r="1.7" fill="#f20000"/>
<circle cx="141.10" cy="348.70" r="1.7" fill="#f20000"/>
<circle cx="154.00" cy="319.80" r="1.7" fill="#f20000"/>
<circle cx="158.00" cy="317.40" r="1.7" fill="#f20000"/>
<circle cx="162.60" cy="316.70" r="1.7" fill="#f20000"/>
<circle cx="162.60" cy="318.60" r="1.7" fill="#f20000"/>
<circle cx="172.00" cy="321.40" r="1.7" fill="#f20000"/>
<circle cx="177.10" cy="323.00" r="1.7" fill="#f20000"/>
<circle cx="182.50" cy="319.10" r="1.7" fill="#f20000"/>
<circle cx="187.20" cy="319.10" r="1.7" fill="#f20000"/>
<circle cx="193.00" cy="318.40" r="1.7" fill="#f20000"/>
<circle cx="198.80" cy="318.40" r="1.7" fill="#f20000"/>
<circle cx="205.70" cy="342.40" r="1.7" fill="#f20000"/>
<circle cx="213.20" cy="343.80" r="1.7" fill="#f20000"/>
<circle cx="221.30" cy="316.00" r="1.7" fill="#f20000"/>
<circle cx="221.30" cy="317.70" r="1.7" fill="#f20000"/>
<circle cx="237.90" cy="316.70" r="1.7" fill="#f20000"/>
<circle cx="247.30" cy="318.10" r="1.7" fill="#f20000"/>
<circle cx="260.10" cy="315.30" r="1.7" fill="#f20000"/>
<circle cx="273.00" cy="320.90" r="1.7" fill="#f20000"/>
<circle cx="325.50" cy="321.40" r="1.7" fill="#f20000"/>
<path d="M46.00,301.50 V353.20 H338.80" fill="none" stroke="#2a2a2a" stroke-width="1.25"/>
<line x1="43.00" y1="305.70" x2="46.00" y2="305.70" stroke="#1a1a1a" stroke-width="1"/>
<text x="40.40" y="309.60" font-size="11.00" text-anchor="end" fill="#333">6</text>
<line x1="43.00" y1="317.35" x2="46.00" y2="317.35" stroke="#1a1a1a" stroke-width="1"/>
<text x="40.40" y="321.25" font-size="11.00" text-anchor="end" fill="#333">3</text>
<line x1="43.00" y1="329.00" x2="46.00" y2="329.00" stroke="#1a1a1a" stroke-width="1"/>
<text x="40.40" y="332.90" font-size="11.00" text-anchor="end" fill="#333">0</text>
<line x1="43.00" y1="340.65" x2="46.00" y2="340.65" stroke="#1a1a1a" stroke-width="1"/>
<text x="40.40" y="344.55" font-size="11.00" text-anchor="end" fill="#333">-3</text>
<line x1="43.00" y1="352.30" x2="46.00" y2="352.30" stroke="#1a1a1a" stroke-width="1"/>
<text x="40.40" y="356.20" font-size="11.00" text-anchor="end" fill="#333">-6</text>
<line x1="75.66" y1="353.20" x2="75.66" y2="356.20" stroke="#1a1a1a" stroke-width="1"/>
<text x="75.66" y="366.40" font-size="11.00" text-anchor="middle" fill="#333">20</text>
<line x1="108.10" y1="353.20" x2="108.10" y2="356.20" stroke="#1a1a1a" stroke-width="1"/>
<text x="108.10" y="366.40" font-size="11.00" text-anchor="middle" fill="#333">37</text>
<line x1="141.48" y1="353.20" x2="141.48" y2="356.20" stroke="#1a1a1a" stroke-width="1"/>
<text x="141.48" y="366.40" font-size="11.00" text-anchor="middle" fill="#333">51</text>
<line x1="177.03" y1="353.20" x2="177.03" y2="356.20" stroke="#1a1a1a" stroke-width="1"/>
<text x="177.03" y="366.40" font-size="11.00" text-anchor="middle" fill="#333">60</text>
<line x1="209.06" y1="353.20" x2="209.06" y2="356.20" stroke="#1a1a1a" stroke-width="1"/>
<text x="209.06" y="366.40" font-size="11.00" text-anchor="middle" fill="#333">77</text>
<line x1="242.91" y1="353.20" x2="242.91" y2="356.20" stroke="#1a1a1a" stroke-width="1"/>
<text x="242.91" y="366.40" font-size="11.00" text-anchor="middle" fill="#333">89</text>
<line x1="272.22" y1="353.20" x2="272.22" y2="356.20" stroke="#1a1a1a" stroke-width="1"/>
<text x="272.22" y="366.40" font-size="11.00" text-anchor="middle" fill="#000" stroke="#000" stroke-width="0.12">120</text>
<text x="192.40" y="380.30" font-size="12.40" text-anchor="middle" fill="#111">Time</text>
<text x="26.70" y="326.90" font-size="12.80" text-anchor="middle" fill="#111" transform="rotate(-90 26.70 326.90)">Beta(t) for Sex</text>
<text x="46.60" y="293.40" font-size="14.35" text-anchor="start" fill="#111" letter-spacing="0.06">Schoenfeld Individual Test p: 0.288</text>
</g>
<g>
<path d="M400.40,319.90 C403.47,320.03 406.97,320.70 418.80,320.70 C430.63,320.70 454.53,320.22 471.40,319.90 C488.27,319.58 501.27,319.02 520.00,318.80 C538.73,318.58 566.60,318.52 583.80,318.60 C601.00,318.68 610.80,320.08 623.20,319.30 C635.60,318.52 652.37,314.80 658.20,313.90" fill="none" stroke="#333" stroke-width="1.1" stroke-dasharray="4.3,3.6"/>
<path d="M400.40,336.20 C403.47,335.33 411.37,332.05 418.80,331.00 C426.23,329.95 428.13,330.13 445.00,329.90 C461.87,329.67 499.05,329.20 520.00,329.60 C540.95,330.00 555.68,330.85 570.70,332.30 C585.72,333.75 595.52,335.33 610.10,338.30 C624.68,341.27 650.18,348.13 658.20,350.10" fill="none" stroke="#333" stroke-width="1.1" stroke-dasharray="4.3,3.6"/>
<path d="M400.40,327.80 C407.83,327.37 431.73,325.85 445.00,325.20 C458.27,324.55 467.50,324.12 480.00,323.90 C492.50,323.68 507.08,323.68 520.00,323.90 C532.92,324.12 542.48,324.47 557.50,325.20 C572.52,325.93 593.32,327.08 610.10,328.30 C626.88,329.52 650.18,331.80 658.20,332.50" fill="none" stroke="#333" stroke-width="1.1"/>
<circle cx="400.40" cy="339.10" r="1.7" fill="#f20000"/>
<circle cx="403.10" cy="341.70" r="1.7" fill="#f20000"/>
<circle cx="405.70" cy="319.40" r="1.7" fill="#f20000"/>
<circle cx="407.80" cy="334.90" r="1.7" fill="#f20000"/>
<circle cx="410.40" cy="309.90" r="1.7" fill="#f20000"/>
<circle cx="410.40" cy="323.90" r="1.7" fill="#f20000"/>
<circle cx="410.40" cy="327.30" r="1.7" fill="#f20000"/>
<circle cx="418.30" cy="323.90" r="1.7" fill="#f20000"/>
<circle cx="420.90" cy="326.50" r="1.7" fill="#f20000"/>
<circle cx="420.90" cy="338.80" r="1.7" fill="#f20000"/>
<circle cx="426.70" cy="330.40" r="1.7" fill="#f20000"/>
<circle cx="429.30" cy="310.70" r="1.7" fill="#f20000"/>
<circle cx="432.50" cy="313.90" r="1.7" fill="#f20000"/>
<circle cx="435.10" cy="312.00" r="1.7" fill="#f20000"/>
<circle cx="435.60" cy="339.10" r="1.7" fill="#f20000"/>
<circle cx="441.40" cy="313.90" r="1.7" fill="#f20000"/>
<circle cx="444.60" cy="339.10" r="1.7" fill="#f20000"/>
<circle cx="447.70" cy="333.10" r="1.7" fill="#f20000"/>
<circle cx="447.70" cy="336.20" r="1.7" fill="#f20000"/>
<circle cx="454.60" cy="303.60" r="1.7" fill="#f20000"/>
<circle cx="458.20" cy="315.50" r="1.7" fill="#f20000"/>
<circle cx="461.40" cy="328.30" r="1.7" fill="#f20000"/>
<circle cx="465.10" cy="333.80" r="1.7" fill="#f20000"/>
<circle cx="465.10" cy="347.80" r="1.7" fill="#f20000"/>
<circle cx="472.40" cy="311.50" r="1.7" fill="#f20000"/>
<circle cx="476.10" cy="319.90" r="1.7" fill="#f20000"/>
<circle cx="480.00" cy="322.50" r="1.7" fill="#f20000"/>
<circle cx="480.00" cy="327.30" r="1.7" fill="#f20000"/>
<circle cx="480.00" cy="333.60" r="1.7" fill="#f20000"/>
<circle cx="491.90" cy="330.40" r="1.7" fill="#f20000"/>
<circle cx="496.30" cy="311.30" r="1.7" fill="#f20000"/>
<circle cx="500.30" cy="317.30" r="1.7" fill="#f20000"/>
<circle cx="500.80" cy="319.40" r="1.7" fill="#f20000"/>
<circle cx="510.00" cy="338.00" r="1.7" fill="#f20000"/>
<circle cx="514.50" cy="340.20" r="1.7" fill="#f20000"/>
<circle cx="519.50" cy="319.20" r="1.7" fill="#f20000"/>
<circle cx="524.20" cy="325.40" r="1.7" fill="#f20000"/>
<circle cx="530.00" cy="324.70" r="1.7" fill="#f20000"/>
<circle cx="535.70" cy="325.40" r="1.7" fill="#f20000"/>
<circle cx="542.30" cy="323.30" r="1.7" fill="#f20000"/>
<circle cx="549.10" cy="318.10" r="1.7" fill="#f20000"/>
<circle cx="557.00" cy="323.90" r="1.7" fill="#f20000"/>
<circle cx="557.00" cy="329.10" r="1.7" fill="#f20000"/>
<circle cx="573.30" cy="318.90" r="1.7" fill="#f20000"/>
<circle cx="582.00" cy="331.20" r="1.7" fill="#f20000"/>
<circle cx="594.90" cy="311.30" r="1.7" fill="#f20000"/>
<circle cx="607.50" cy="337.80" r="1.7" fill="#f20000"/>
<circle cx="658.20" cy="334.40" r="1.7" fill="#f20000"/>
<path d="M387.50,301.40 V353.20 H671.10" fill="none" stroke="#2a2a2a" stroke-width="1.25"/>
<line x1="384.50" y1="307.00" x2="387.50" y2="307.00" stroke="#1a1a1a" stroke-width="1"/>
<text x="381.90" y="310.90" font-size="11.00" text-anchor="end" fill="#333">0.2</text>
<line x1="384.50" y1="318.40" x2="387.50" y2="318.40" stroke="#1a1a1a" stroke-width="1"/>
<text x="381.90" y="322.30" font-size="11.00" text-anchor="end" fill="#333">0.1</text>
<line x1="384.50" y1="329.80" x2="387.50" y2="329.80" stroke="#1a1a1a" stroke-width="1"/>
<text x="381.90" y="333.70" font-size="11.00" text-anchor="end" fill="#333">0.0</text>
<line x1="384.50" y1="341.20" x2="387.50" y2="341.20" stroke="#1a1a1a" stroke-width="1"/>
<text x="381.90" y="345.10" font-size="11.00" text-anchor="end" fill="#333">-0.1</text>
<line x1="384.50" y1="352.60" x2="387.50" y2="352.60" stroke="#1a1a1a" stroke-width="1"/>
<text x="381.90" y="356.50" font-size="11.00" text-anchor="end" fill="#333">-0.2</text>
<line x1="416.23" y1="353.20" x2="416.23" y2="356.20" stroke="#1a1a1a" stroke-width="1"/>
<text x="416.23" y="366.40" font-size="11.00" text-anchor="middle" fill="#333">20</text>
<line x1="447.65" y1="353.20" x2="447.65" y2="356.20" stroke="#1a1a1a" stroke-width="1"/>
<text x="447.65" y="366.40" font-size="11.00" text-anchor="middle" fill="#333">37</text>
<line x1="479.98" y1="353.20" x2="479.98" y2="356.20" stroke="#1a1a1a" stroke-width="1"/>
<text x="479.98" y="366.40" font-size="11.00" text-anchor="middle" fill="#333">51</text>
<line x1="514.41" y1="353.20" x2="514.41" y2="356.20" stroke="#1a1a1a" stroke-width="1"/>
<text x="514.41" y="366.40" font-size="11.00" text-anchor="middle" fill="#333">60</text>
<line x1="545.44" y1="353.20" x2="545.44" y2="356.20" stroke="#1a1a1a" stroke-width="1"/>
<text x="545.44" y="366.40" font-size="11.00" text-anchor="middle" fill="#333">77</text>
<line x1="578.22" y1="353.20" x2="578.22" y2="356.20" stroke="#1a1a1a" stroke-width="1"/>
<text x="578.22" y="366.40" font-size="11.00" text-anchor="middle" fill="#333">89</text>
<line x1="606.61" y1="353.20" x2="606.61" y2="356.20" stroke="#1a1a1a" stroke-width="1"/>
<text x="606.61" y="366.40" font-size="11.00" text-anchor="middle" fill="#000" stroke="#000" stroke-width="0.12">120</text>
<text x="529.30" y="380.30" font-size="12.40" text-anchor="middle" fill="#111">Time</text>
<text x="359.40" y="327.10" font-size="12.80" text-anchor="middle" fill="#111" transform="rotate(-90 359.40 327.10)">Beta(t) for Age</text>
<text x="388.10" y="293.10" font-size="14.35" text-anchor="start" fill="#111" letter-spacing="0.06">Schoenfeld Individual Test p: 0.9278</text>
</g>
<g>
<path d="M79.30,436.20 C83.60,437.27 95.55,441.30 105.10,442.60 C114.65,443.90 125.78,443.80 136.60,444.00 C147.42,444.20 157.35,444.10 170.00,443.80 C182.65,443.50 199.17,442.63 212.50,442.20 C225.83,441.77 238.75,441.67 250.00,441.20 C261.25,440.73 267.28,440.67 280.00,439.40 C292.72,438.13 318.58,434.57 326.30,433.60" fill="none" stroke="#333" stroke-width="1.1" stroke-dasharray="4.3,3.6"/>
<path d="M79.30,448.00 C83.60,448.23 95.55,448.82 105.10,449.40 C114.65,449.98 127.45,451.20 136.60,451.50 C145.75,451.80 147.35,451.33 160.00,451.20 C172.65,451.07 194.98,450.48 212.50,450.70 C230.02,450.92 246.13,450.67 265.10,452.50 C284.07,454.33 316.10,460.17 326.30,461.70" fill="none" stroke="#333" stroke-width="1.1" stroke-dasharray="4.3,3.6"/>
<path d="M79.30,442.30 C83.60,442.88 96.42,444.92 105.10,445.80 C113.78,446.68 121.42,447.30 131.40,447.60 C141.38,447.90 153.67,447.82 165.00,447.60 C176.33,447.38 187.10,446.67 199.40,446.30 C211.70,445.93 225.37,445.40 238.80,445.40 C252.23,445.40 265.42,445.90 280.00,446.30 C294.58,446.70 318.58,447.55 326.30,447.80" fill="none" stroke="#333" stroke-width="1.1"/>
<circle cx="79.30" cy="453.80" r="1.7" fill="#f20000"/>
<circle cx="82.00" cy="448.80" r="1.7" fill="#f20000"/>
<circle cx="84.60" cy="444.60" r="1.7" fill="#f20000"/>
<circle cx="86.70" cy="433.10" r="1.7" fill="#f20000"/>
<circle cx="88.80" cy="438.30" r="1.7" fill="#f20000"/>
<circle cx="88.80" cy="448.80" r="1.7" fill="#f20000"/>
<circle cx="89.30" cy="450.70" r="1.7" fill="#f20000"/>
<circle cx="96.70" cy="447.50" r="1.7" fill="#f20000"/>
<circle cx="99.30" cy="444.90" r="1.7" fill="#f20000"/>
<circle cx="104.60" cy="431.50" r="1.7" fill="#f20000"/>
<circle cx="107.70" cy="439.70" r="1.7" fill="#f20000"/>
<circle cx="110.40" cy="435.70" r="1.7" fill="#f20000"/>
<circle cx="112.50" cy="441.00" r="1.7" fill="#f20000"/>
<circle cx="113.00" cy="452.50" r="1.7" fill="#f20000"/>
<circle cx="118.80" cy="440.20" r="1.7" fill="#f20000"/>
<circle cx="121.40" cy="444.90" r="1.7" fill="#f20000"/>
<circle cx="124.80" cy="452.00" r="1.7" fill="#f20000"/>
<circle cx="130.80" cy="441.50" r="1.7" fill="#f20000"/>
<circle cx="134.50" cy="444.10" r="1.7" fill="#f20000"/>
<circle cx="137.90" cy="443.30" r="1.7" fill="#f20000"/>
<circle cx="141.90" cy="454.10" r="1.7" fill="#f20000"/>
<circle cx="148.40" cy="434.10" r="1.7" fill="#f20000"/>
<circle cx="151.90" cy="452.50" r="1.7" fill="#f20000"/>
<circle cx="155.80" cy="444.10" r="1.7" fill="#f20000"/>
<circle cx="155.80" cy="451.50" r="1.7" fill="#f20000"/>
<circle cx="157.10" cy="452.50" r="1.7" fill="#f20000"/>
<circle cx="167.10" cy="449.90" r="1.7" fill="#f20000"/>
<circle cx="171.30" cy="451.50" r="1.7" fill="#f20000"/>
<circle cx="175.20" cy="448.80" r="1.7" fill="#f20000"/>
<circle cx="175.20" cy="453.80" r="1.7" fill="#f20000"/>
<circle cx="184.20" cy="459.10" r="1.7" fill="#f20000"/>
<circle cx="188.40" cy="452.80" r="1.7" fill="#f20000"/>
<circle cx="193.40" cy="455.40" r="1.7" fill="#f20000"/>
<circle cx="198.10" cy="445.40" r="1.7" fill="#f20000"/>
<circle cx="203.40" cy="456.50" r="1.7" fill="#f20000"/>
<circle cx="209.10" cy="441.50" r="1.7" fill="#f20000"/>
<circle cx="215.20" cy="414.40" r="1.7" fill="#f20000"/>
<circle cx="222.00" cy="453.30" r="1.7" fill="#f20000"/>
<circle cx="229.40" cy="417.10" r="1.7" fill="#f20000"/>
<circle cx="229.40" cy="445.40" r="1.7" fill="#f20000"/>
<circle cx="244.90" cy="450.20" r="1.7" fill="#f20000"/>
<circle cx="253.80" cy="452.00" r="1.7" fill="#f20000"/>
<circle cx="265.90" cy="453.30" r="1.7" fill="#f20000"/>
<circle cx="278.20" cy="451.50" r="1.7" fill="#f20000"/>
<circle cx="326.30" cy="444.90" r="1.7" fill="#f20000"/>
<path d="M67.25,411.80 V463.50 H338.70" fill="none" stroke="#2a2a2a" stroke-width="1.25"/>
<line x1="64.25" y1="412.30" x2="67.25" y2="412.30" stroke="#1a1a1a" stroke-width="1"/>
<text x="61.65" y="416.20" font-size="11.00" text-anchor="end" fill="#333">0.075</text>
<line x1="64.25" y1="422.70" x2="67.25" y2="422.70" stroke="#1a1a1a" stroke-width="1"/>
<text x="61.65" y="426.60" font-size="11.00" text-anchor="end" fill="#333">0.050</text>
<line x1="64.25" y1="433.10" x2="67.25" y2="433.10" stroke="#1a1a1a" stroke-width="1"/>
<text x="61.65" y="437.00" font-size="11.00" text-anchor="end" fill="#333">0.025</text>
<line x1="64.25" y1="443.45" x2="67.25" y2="443.45" stroke="#1a1a1a" stroke-width="1"/>
<text x="61.65" y="447.35" font-size="11.00" text-anchor="end" fill="#333">0.000</text>
<line x1="64.25" y1="453.80" x2="67.25" y2="453.80" stroke="#1a1a1a" stroke-width="1"/>
<text x="61.65" y="457.70" font-size="11.00" text-anchor="end" fill="#333">-0.025</text>
<line x1="94.75" y1="463.50" x2="94.75" y2="466.50" stroke="#1a1a1a" stroke-width="1"/>
<text x="94.75" y="476.70" font-size="11.00" text-anchor="middle" fill="#333">20</text>
<line x1="124.82" y1="463.50" x2="124.82" y2="466.50" stroke="#1a1a1a" stroke-width="1"/>
<text x="124.82" y="476.70" font-size="11.00" text-anchor="middle" fill="#333">37</text>
<line x1="155.77" y1="463.50" x2="155.77" y2="466.50" stroke="#1a1a1a" stroke-width="1"/>
<text x="155.77" y="476.70" font-size="11.00" text-anchor="middle" fill="#333">51</text>
<line x1="188.72" y1="463.50" x2="188.72" y2="466.50" stroke="#1a1a1a" stroke-width="1"/>
<text x="188.72" y="476.70" font-size="11.00" text-anchor="middle" fill="#333">60</text>
<line x1="218.42" y1="463.50" x2="218.42" y2="466.50" stroke="#1a1a1a" stroke-width="1"/>
<text x="218.42" y="476.70" font-size="11.00" text-anchor="middle" fill="#333">77</text>
<line x1="249.80" y1="463.50" x2="249.80" y2="466.50" stroke="#1a1a1a" stroke-width="1"/>
<text x="249.80" y="476.70" font-size="11.00" text-anchor="middle" fill="#333">89</text>
<line x1="276.97" y1="463.50" x2="276.97" y2="466.50" stroke="#1a1a1a" stroke-width="1"/>
<text x="276.97" y="476.70" font-size="11.00" text-anchor="middle" fill="#000" stroke="#000" stroke-width="0.12">120</text>
<text x="202.97" y="490.60" font-size="12.40" text-anchor="middle" fill="#111">Time</text>
<text x="26.70" y="438.90" font-size="12.80" text-anchor="middle" fill="#111" transform="rotate(-90 26.70 438.90)">Beta(t) for PLT</text>
<text x="67.85" y="403.40" font-size="14.35" text-anchor="start" fill="#111" letter-spacing="0.06">Schoenfeld Individual Test p: 0.5209</text>
</g>
<g>
<path d="M400.40,431.00 C404.50,431.33 416.73,432.95 425.00,433.00 C433.27,433.05 440.83,431.80 450.00,431.30 C459.17,430.80 468.33,430.30 480.00,430.00 C491.67,429.70 506.67,429.67 520.00,429.50 C533.33,429.33 549.17,429.18 560.00,429.00 C570.83,428.82 577.50,428.82 585.00,428.40 C592.50,427.98 597.50,427.65 605.00,426.50 C612.50,425.35 621.13,423.35 630.00,421.50 C638.87,419.65 653.50,416.42 658.20,415.40" fill="none" stroke="#333" stroke-width="1.1" stroke-dasharray="4.3,3.6"/>
<path d="M400.40,450.20 C403.47,449.50 411.37,447.17 418.80,446.00 C426.23,444.83 434.80,443.80 445.00,443.20 C455.20,442.60 465.83,442.33 480.00,442.40 C494.17,442.47 515.00,443.20 530.00,443.60 C545.00,444.00 559.17,444.30 570.00,444.80 C580.83,445.30 586.67,445.70 595.00,446.60 C603.33,447.50 609.47,448.10 620.00,450.20 C630.53,452.30 651.83,457.70 658.20,459.20" fill="none" stroke="#333" stroke-width="1.1" stroke-dasharray="4.3,3.6"/>
<path d="M400.40,440.70 C407.83,440.17 431.73,438.25 445.00,437.50 C458.27,436.75 467.50,436.42 480.00,436.20 C492.50,435.98 490.30,435.98 520.00,436.20 C549.70,436.42 635.17,437.28 658.20,437.50" fill="none" stroke="#333" stroke-width="1.1"/>
<circle cx="400.40" cy="447.30" r="1.7" fill="#f20000"/>
<circle cx="403.10" cy="437.50" r="1.7" fill="#f20000"/>
<circle cx="405.70" cy="446.20" r="1.7" fill="#f20000"/>
<circle cx="407.80" cy="432.30" r="1.7" fill="#f20000"/>
<circle cx="410.40" cy="430.20" r="1.7" fill="#f20000"/>
<circle cx="410.40" cy="433.10" r="1.7" fill="#f20000"/>
<circle cx="410.40" cy="447.50" r="1.7" fill="#f20000"/>
<circle cx="418.30" cy="430.50" r="1.7" fill="#f20000"/>
<circle cx="420.90" cy="437.50" r="1.7" fill="#f20000"/>
<circle cx="420.90" cy="456.50" r="1.7" fill="#f20000"/>
<circle cx="426.70" cy="442.30" r="1.7" fill="#f20000"/>
<circle cx="429.30" cy="446.70" r="1.7" fill="#f20000"/>
<circle cx="432.50" cy="428.90" r="1.7" fill="#f20000"/>
<circle cx="435.10" cy="437.50" r="1.7" fill="#f20000"/>
<circle cx="435.60" cy="451.50" r="1.7" fill="#f20000"/>
<circle cx="441.40" cy="421.80" r="1.7" fill="#f20000"/>
<circle cx="444.60" cy="426.30" r="1.7" fill="#f20000"/>
<circle cx="447.70" cy="432.30" r="1.7" fill="#f20000"/>
<circle cx="447.70" cy="443.30" r="1.7" fill="#f20000"/>
<circle cx="454.60" cy="429.10" r="1.7" fill="#f20000"/>
<circle cx="458.20" cy="428.90" r="1.7" fill="#f20000"/>
<circle cx="461.40" cy="444.10" r="1.7" fill="#f20000"/>
<circle cx="465.10" cy="444.90" r="1.7" fill="#f20000"/>
<circle cx="465.10" cy="446.70" r="1.7" fill="#f20000"/>
<circle cx="472.40" cy="439.60" r="1.7" fill="#f20000"/>
<circle cx="476.10" cy="444.10" r="1.7" fill="#f20000"/>
<circle cx="480.00" cy="423.60" r="1.7" fill="#f20000"/>
<circle cx="480.00" cy="430.20" r="1.7" fill="#f20000"/>
<circle cx="480.00" cy="455.20" r="1.7" fill="#f20000"/>
<circle cx="491.90" cy="436.20" r="1.7" fill="#f20000"/>
<circle cx="496.30" cy="414.40" r="1.7" fill="#f20000"/>
<circle cx="500.30" cy="422.60" r="1.7" fill="#f20000"/>
<circle cx="500.80" cy="433.10" r="1.7" fill="#f20000"/>
<circle cx="510.00" cy="427.70" r="1.7" fill="#f20000"/>
<circle cx="514.50" cy="457.30" r="1.7" fill="#f20000"/>
<circle cx="519.50" cy="433.10" r="1.7" fill="#f20000"/>
<circle cx="524.20" cy="440.70" r="1.7" fill="#f20000"/>
<circle cx="530.00" cy="429.70" r="1.7" fill="#f20000"/>
<circle cx="535.70" cy="441.50" r="1.7" fill="#f20000"/>
<circle cx="542.30" cy="455.90" r="1.7" fill="#f20000"/>
<circle cx="549.10" cy="449.40" r="1.7" fill="#f20000"/>
<circle cx="557.00" cy="421.80" r="1.7" fill="#f20000"/>
<circle cx="557.00" cy="461.70" r="1.7" fill="#f20000"/>
<circle cx="573.30" cy="419.90" r="1.7" fill="#f20000"/>
<circle cx="582.00" cy="435.40" r="1.7" fill="#f20000"/>
<circle cx="594.90" cy="424.90" r="1.7" fill="#f20000"/>
<circle cx="607.50" cy="423.10" r="1.7" fill="#f20000"/>
<circle cx="658.20" cy="449.40" r="1.7" fill="#f20000"/>
<path d="M387.30,411.90 V463.50 H671.10" fill="none" stroke="#2a2a2a" stroke-width="1.25"/>
<line x1="384.30" y1="416.60" x2="387.30" y2="416.60" stroke="#1a1a1a" stroke-width="1"/>
<text x="381.70" y="420.50" font-size="11.00" text-anchor="end" fill="#333">0.2</text>
<line x1="384.30" y1="432.50" x2="387.30" y2="432.50" stroke="#1a1a1a" stroke-width="1"/>
<text x="381.70" y="436.40" font-size="11.00" text-anchor="end" fill="#333">0.0</text>
<line x1="384.30" y1="448.30" x2="387.30" y2="448.30" stroke="#1a1a1a" stroke-width="1"/>
<text x="381.70" y="452.20" font-size="11.00" text-anchor="end" fill="#333">-0.2</text>
<line x1="416.05" y1="463.50" x2="416.05" y2="466.50" stroke="#1a1a1a" stroke-width="1"/>
<text x="416.05" y="476.70" font-size="11.00" text-anchor="middle" fill="#333">20</text>
<line x1="447.49" y1="463.50" x2="447.49" y2="466.50" stroke="#1a1a1a" stroke-width="1"/>
<text x="447.49" y="476.70" font-size="11.00" text-anchor="middle" fill="#333">37</text>
<line x1="479.85" y1="463.50" x2="479.85" y2="466.50" stroke="#1a1a1a" stroke-width="1"/>
<text x="479.85" y="476.70" font-size="11.00" text-anchor="middle" fill="#333">51</text>
<line x1="514.30" y1="463.50" x2="514.30" y2="466.50" stroke="#1a1a1a" stroke-width="1"/>
<text x="514.30" y="476.70" font-size="11.00" text-anchor="middle" fill="#333">60</text>
<line x1="545.35" y1="463.50" x2="545.35" y2="466.50" stroke="#1a1a1a" stroke-width="1"/>
<text x="545.35" y="476.70" font-size="11.00" text-anchor="middle" fill="#333">77</text>
<line x1="578.16" y1="463.50" x2="578.16" y2="466.50" stroke="#1a1a1a" stroke-width="1"/>
<text x="578.16" y="476.70" font-size="11.00" text-anchor="middle" fill="#333">89</text>
<line x1="606.56" y1="463.50" x2="606.56" y2="466.50" stroke="#1a1a1a" stroke-width="1"/>
<text x="606.56" y="476.70" font-size="11.00" text-anchor="middle" fill="#000" stroke="#000" stroke-width="0.12">120</text>
<text x="529.20" y="490.60" font-size="12.40" text-anchor="middle" fill="#111">Time</text>
<text x="359.40" y="438.40" font-size="12.80" text-anchor="middle" fill="#111" transform="rotate(-90 359.40 438.40)">Beta(t) for ALB</text>
<text x="387.90" y="403.40" font-size="14.35" text-anchor="start" fill="#111" letter-spacing="0.06">Schoenfeld Individual Test p: 0.7962</text>
</g>
<g>
<path d="M64.40,553.10 C69.00,552.47 83.03,550.38 92.00,549.30 C100.97,548.22 110.20,547.23 118.20,546.60 C126.20,545.97 133.03,545.55 140.00,545.50 C146.97,545.45 151.67,545.95 160.00,546.30 C168.33,546.65 179.17,547.23 190.00,547.60 C200.83,547.97 214.17,548.28 225.00,548.50 C235.83,548.72 246.67,549.15 255.00,548.90 C263.33,548.65 268.33,547.73 275.00,547.00 C281.67,546.27 286.58,546.03 295.00,544.50 C303.42,542.97 320.42,538.92 325.50,537.80" fill="none" stroke="#333" stroke-width="1.1" stroke-dasharray="4.3,3.6"/>
<path d="M64.40,568.00 C69.00,566.53 83.03,561.25 92.00,559.20 C100.97,557.15 110.20,556.38 118.20,555.70 C126.20,555.02 133.03,555.05 140.00,555.10 C146.97,555.15 151.67,555.48 160.00,556.00 C168.33,556.52 179.17,557.40 190.00,558.20 C200.83,559.00 212.48,559.87 225.00,560.80 C237.52,561.73 253.43,562.70 265.10,563.80 C276.77,564.90 284.93,566.07 295.00,567.40 C305.07,568.73 320.42,571.07 325.50,571.80" fill="none" stroke="#333" stroke-width="1.1" stroke-dasharray="4.3,3.6"/>
<path d="M64.40,559.60 C69.00,558.77 83.03,555.97 92.00,554.60 C100.97,553.23 110.20,552.03 118.20,551.40 C126.20,550.77 133.03,550.77 140.00,550.80 C146.97,550.83 151.67,551.20 160.00,551.60 C168.33,552.00 179.17,552.72 190.00,553.20 C200.83,553.68 212.48,554.17 225.00,554.50 C237.52,554.83 248.35,555.18 265.10,555.20 C281.85,555.22 315.43,554.70 325.50,554.60" fill="none" stroke="#333" stroke-width="1.1"/>
<circle cx="64.40" cy="559.10" r="1.7" fill="#f20000"/>
<circle cx="67.00" cy="560.90" r="1.7" fill="#f20000"/>
<circle cx="69.60" cy="553.60" r="1.7" fill="#f20000"/>
<circle cx="72.30" cy="566.20" r="1.7" fill="#f20000"/>
<circle cx="74.40" cy="548.30" r="1.7" fill="#f20000"/>
<circle cx="74.40" cy="559.10" r="1.7" fill="#f20000"/>
<circle cx="74.40" cy="564.90" r="1.7" fill="#f20000"/>
<circle cx="82.20" cy="560.40" r="1.7" fill="#f20000"/>
<circle cx="85.40" cy="537.80" r="1.7" fill="#f20000"/>
<circle cx="85.40" cy="553.10" r="1.7" fill="#f20000"/>
<circle cx="91.20" cy="570.70" r="1.7" fill="#f20000"/>
<circle cx="94.10" cy="559.10" r="1.7" fill="#f20000"/>
<circle cx="96.70" cy="564.40" r="1.7" fill="#f20000"/>
<circle cx="99.80" cy="549.10" r="1.7" fill="#f20000"/>
<circle cx="99.80" cy="556.20" r="1.7" fill="#f20000"/>
<circle cx="105.60" cy="553.60" r="1.7" fill="#f20000"/>
<circle cx="109.80" cy="553.60" r="1.7" fill="#f20000"/>
<circle cx="112.50" cy="554.40" r="1.7" fill="#f20000"/>
<circle cx="119.50" cy="532.60" r="1.7" fill="#f20000"/>
<circle cx="123.00" cy="538.60" r="1.7" fill="#f20000"/>
<circle cx="126.10" cy="565.40" r="1.7" fill="#f20000"/>
<circle cx="130.10" cy="549.10" r="1.7" fill="#f20000"/>
<circle cx="130.10" cy="563.00" r="1.7" fill="#f20000"/>
<circle cx="137.40" cy="537.30" r="1.7" fill="#f20000"/>
<circle cx="141.40" cy="542.50" r="1.7" fill="#f20000"/>
<circle cx="145.30" cy="555.20" r="1.7" fill="#f20000"/>
<circle cx="145.30" cy="561.50" r="1.7" fill="#f20000"/>
<circle cx="157.10" cy="546.50" r="1.7" fill="#f20000"/>
<circle cx="161.50" cy="562.80" r="1.7" fill="#f20000"/>
<circle cx="166.10" cy="533.40" r="1.7" fill="#f20000"/>
<circle cx="166.10" cy="547.00" r="1.7" fill="#f20000"/>
<circle cx="175.30" cy="564.20" r="1.7" fill="#f20000"/>
<circle cx="180.00" cy="552.30" r="1.7" fill="#f20000"/>
<circle cx="185.00" cy="552.50" r="1.7" fill="#f20000"/>
<circle cx="189.70" cy="551.20" r="1.7" fill="#f20000"/>
<circle cx="195.50" cy="549.60" r="1.7" fill="#f20000"/>
<circle cx="201.50" cy="561.70" r="1.7" fill="#f20000"/>
<circle cx="208.10" cy="552.30" r="1.7" fill="#f20000"/>
<circle cx="215.20" cy="549.60" r="1.7" fill="#f20000"/>
<circle cx="223.10" cy="524.70" r="1.7" fill="#f20000"/>
<circle cx="223.10" cy="567.50" r="1.7" fill="#f20000"/>
<circle cx="240.10" cy="565.70" r="1.7" fill="#f20000"/>
<circle cx="248.80" cy="549.10" r="1.7" fill="#f20000"/>
<circle cx="261.20" cy="562.30" r="1.7" fill="#f20000"/>
<circle cx="274.30" cy="567.50" r="1.7" fill="#f20000"/>
<circle cx="325.50" cy="547.80" r="1.7" fill="#f20000"/>
<path d="M51.55,522.50 V574.20 H338.70" fill="none" stroke="#2a2a2a" stroke-width="1.25"/>
<line x1="48.55" y1="535.10" x2="51.55" y2="535.10" stroke="#1a1a1a" stroke-width="1"/>
<text x="45.95" y="539.00" font-size="11.00" text-anchor="end" fill="#333">0.4</text>
<line x1="48.55" y1="548.50" x2="51.55" y2="548.50" stroke="#1a1a1a" stroke-width="1"/>
<text x="45.95" y="552.40" font-size="11.00" text-anchor="end" fill="#333">0.2</text>
<line x1="48.55" y1="561.90" x2="51.55" y2="561.90" stroke="#1a1a1a" stroke-width="1"/>
<text x="45.95" y="565.80" font-size="11.00" text-anchor="end" fill="#333">0.0</text>
<line x1="80.64" y1="574.20" x2="80.64" y2="577.20" stroke="#1a1a1a" stroke-width="1"/>
<text x="80.64" y="587.40" font-size="11.00" text-anchor="middle" fill="#333">20</text>
<line x1="112.45" y1="574.20" x2="112.45" y2="577.20" stroke="#1a1a1a" stroke-width="1"/>
<text x="112.45" y="587.40" font-size="11.00" text-anchor="middle" fill="#333">37</text>
<line x1="145.19" y1="574.20" x2="145.19" y2="577.20" stroke="#1a1a1a" stroke-width="1"/>
<text x="145.19" y="587.40" font-size="11.00" text-anchor="middle" fill="#333">51</text>
<line x1="180.05" y1="574.20" x2="180.05" y2="577.20" stroke="#1a1a1a" stroke-width="1"/>
<text x="180.05" y="587.40" font-size="11.00" text-anchor="middle" fill="#333">60</text>
<line x1="211.46" y1="574.20" x2="211.46" y2="577.20" stroke="#1a1a1a" stroke-width="1"/>
<text x="211.46" y="587.40" font-size="11.00" text-anchor="middle" fill="#333">77</text>
<line x1="244.66" y1="574.20" x2="244.66" y2="577.20" stroke="#1a1a1a" stroke-width="1"/>
<text x="244.66" y="587.40" font-size="11.00" text-anchor="middle" fill="#333">89</text>
<line x1="273.40" y1="574.20" x2="273.40" y2="577.20" stroke="#1a1a1a" stroke-width="1"/>
<text x="273.40" y="587.40" font-size="11.00" text-anchor="middle" fill="#000" stroke="#000" stroke-width="0.12">120</text>
<text x="195.12" y="601.30" font-size="12.40" text-anchor="middle" fill="#111">Time</text>
<text x="26.70" y="548.50" font-size="12.80" text-anchor="middle" fill="#111" transform="rotate(-90 26.70 548.50)">Beta(t) for LSM</text>
<text x="52.15" y="515.00" font-size="14.35" text-anchor="start" fill="#111" letter-spacing="0.06">Schoenfeld Individual Test p: 0.543</text>
</g>
</svg>
</body></html>
